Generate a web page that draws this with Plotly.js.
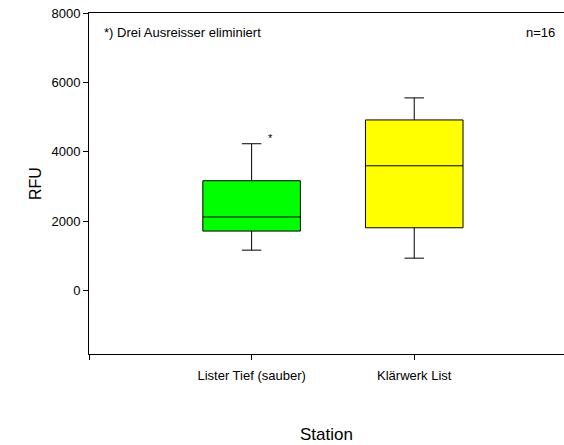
<!DOCTYPE html>
<html>
<head>
<meta charset="utf-8">
<script src="https://cdn.plot.ly/plotly-3.0.1.min.js"></script>
<style>html,body{margin:0;padding:0;background:#fff;}#chart{width:564px;height:445px;}</style>
</head>
<body>
<div id="chart"></div>
<script>
// Data
var stations = ['Lister Tief (sauber)', 'Klärwerk List'];
var stationPos = [1, 2];
var lowerFence = [1170, 940];
var q1 = [1720, 1815];
var median = [2125, 3600];
var q3 = [3170, 4920];
var upperFence = [4235, 5555];
var boxColors = ['#00ff00', '#ffff00'];
var yTicks = [0, 2000, 4000, 6000, 8000];
var noteText = '*) Drei Ausreisser eliminiert';
var nText = 'n=16';

var font = 'Liberation Sans, Arial, sans-serif';

var traces = stations.map(function (name, i) {
  return {
    type: 'box',
    name: name,
    x: [stationPos[i]],
    q1: [q1[i]],
    median: [median[i]],
    q3: [q3[i]],
    lowerfence: [lowerFence[i]],
    upperfence: [upperFence[i]],
    width: 0.6,
    whiskerwidth: 0.2,
    fillcolor: boxColors[i],
    line: {color: '#000000', width: 1},
    boxpoints: false,
    hoverinfo: 'skip',
    showlegend: false
  };
});

var layout = {
  width: 564,
  height: 445,
  margin: {l: 89, r: 0, t: 13, b: 91, pad: 0},
  paper_bgcolor: '#ffffff',
  plot_bgcolor: '#ffffff',
  font: {family: font, size: 13, color: '#000000'},
  showlegend: false,
  xaxis: {
    range: [0, 2.921],
    tickvals: [0].concat(stationPos),
    ticktext: [''].concat(stations),
    ticks: 'outside',
    ticklen: 5,
    tickcolor: '#000000',
    showline: true,
    linecolor: '#000000',
    linewidth: 1,
    mirror: true,
    showgrid: false,
    zeroline: false,
    tickfont: {family: font, size: 13},
    ticklabelstandoff: 4,
    title: {text: 'Station', font: {family: font, size: 17}, standoff: 46},
    automargin: true,
    fixedrange: true
  },
  yaxis: {
    range: [-1820, 8000],
    tickvals: yTicks,
    ticktext: yTicks.map(String),
    ticks: 'outside',
    ticklen: 5,
    tickcolor: '#000000',
    showline: true,
    linecolor: '#000000',
    linewidth: 1,
    showgrid: false,
    zeroline: false,
    tickfont: {family: font, size: 13},
    title: {text: 'RFU', font: {family: font, size: 16}, standoff: 5},
    automargin: true,
    fixedrange: true
  },
  annotations: [
    {xref: 'paper', yref: 'paper', x: 0.027, y: 0.944, xanchor: 'left', yanchor: 'middle',
     text: noteText, showarrow: false, font: {family: font, size: 13}},
    {xref: 'paper', yref: 'paper', x: 0.985, y: 0.944, xanchor: 'right', yanchor: 'middle',
     text: nText, showarrow: false, font: {family: font, size: 13}},
    {xref: 'x', yref: 'y', x: 1.115, y: 4400, xanchor: 'center', yanchor: 'middle',
     text: '*', showarrow: false, font: {family: font, size: 11}}
  ]
};

Plotly.newPlot('chart', traces, layout, {displayModeBar: false, staticPlot: true});
</script>
</body>
</html>
